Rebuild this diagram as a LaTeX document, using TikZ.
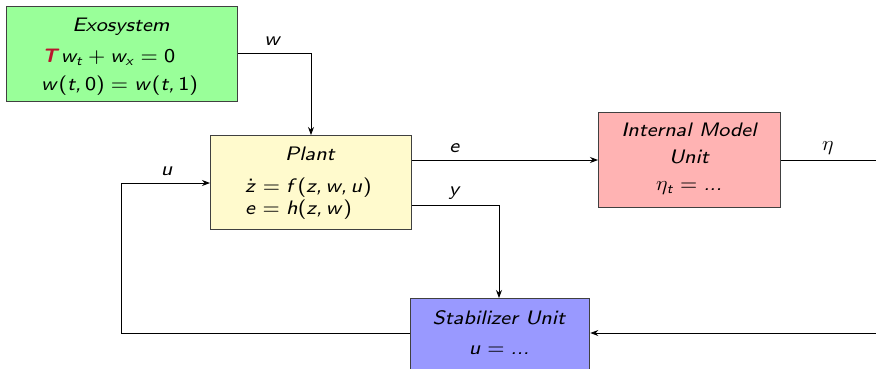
\documentclass[tikz,border=0pt]{standalone}
\usepackage{graphicx}
\usetikzlibrary{arrows.meta}
\DeclareFontFamily{OT1}{ssviii}{}
\DeclareFontShape{OT1}{ssviii}{m}{n}{<-> cmss8}{}
\DeclareFontShape{OT1}{ssviii}{m}{sl}{<-> cmssi8}{}
\DeclareFontShape{OT1}{ssviii}{m}{it}{<-> ssub * ssviii/m/sl}{}
\DeclareSymbolFont{sflet}{OT1}{ssviii}{m}{sl}
\SetSymbolFont{operators}{normal}{OT1}{ssviii}{m}{n}
\DeclareMathSymbol{e}{\mathalpha}{sflet}{`e}
\DeclareMathSymbol{f}{\mathalpha}{sflet}{`f}
\DeclareMathSymbol{h}{\mathalpha}{sflet}{`h}
\DeclareMathSymbol{t}{\mathalpha}{sflet}{`t}
\DeclareMathSymbol{u}{\mathalpha}{sflet}{`u}
\DeclareMathSymbol{w}{\mathalpha}{sflet}{`w}
\DeclareMathSymbol{x}{\mathalpha}{sflet}{`x}
\DeclareMathSymbol{y}{\mathalpha}{sflet}{`y}
\DeclareMathSymbol{z}{\mathalpha}{sflet}{`z}
\DeclareMathSymbol{,}{\mathpunct}{sflet}{`,}
\DeclareMathSymbol{.}{\mathord}{sflet}{`.}
\definecolor{exo}{RGB}{153,255,153}
\definecolor{plantc}{RGB}{255,250,205}
\definecolor{imu}{RGB}{255,179,179}
\definecolor{stab}{RGB}{153,153,255}
\definecolor{tred}{RGB}{185,20,45}
\newcommand{\wtx}[1]{\scalebox{1.07}[1]{#1}}
\newcommand{\ssit}[1]{{\fontencoding{OT1}\fontfamily{ssviii}\fontshape{sl}\selectfont #1}}
\newcommand{\bigT}{{\fontencoding{TU}\fontfamily{lmss}\fontseries{bx}\fontshape{sl}\selectfont T}}
\begin{document}
\begin{tikzpicture}[x=1pt,y=-1pt,
  every node/.style={font=\fontsize{19.5}{23}\selectfont},
  blk/.style={draw=black!75,line width=1.3pt,inner sep=0pt,anchor=north west},
  txt/.style={anchor=base,inner sep=0pt},
  ltxt/.style={anchor=base west,inner sep=0pt},
  conn/.style={line width=0.9pt,-{Stealth[length=8pt,width=6pt]}}]
\useasboundingbox (0,0) rectangle (876,368);
\clip (0,0) rectangle (876,368);
% boxes
\node[blk,fill=exo,minimum width=231pt,minimum height=95pt] (exo) at (6,6) {};
\node[blk,fill=plantc,minimum width=201pt,minimum height=94pt] (plant) at (210,135) {};
\node[blk,fill=imu,minimum width=182pt,minimum height=95pt] (imu) at (598,112) {};
\node[blk,fill=stab,minimum width=179pt,minimum height=95pt] (stab) at (410,298) {};
% texts
\node[txt] (t1) at (121,31) {\wtx{\ssit{Exosystem}}};
\node[ltxt] (t2) at (42,62) {\wtx{\textcolor{tred}{\bigT}\,$w_t+w_x=0$}};
\node[ltxt] (t3) at (41,90) {\wtx{$w(t,0)=w(t,1)$}};
\node[txt] (p1) at (310,160) {\wtx{\ssit{Plant}}};
\node[ltxt] (p2) at (245,192) {\wtx{$\dot z=f(z,w,u)$}};
\node[ltxt] (p3) at (245,214) {\wtx{$e=h(z,w)$}};
\node[txt] (i1) at (689,136) {\wtx{\ssit{Internal Model}}};
\node[txt] (i2) at (689,163) {\wtx{\ssit{Unit}}};
\node[txt] (i3) at (689,190) {\wtx{$\eta_t=...$}};
\node[txt] (s1) at (499,324) {\wtx{\ssit{Stabilizer Unit}}};
\node[txt] (s2) at (499,354) {\wtx{$u=...$}};
% coordinates
\coordinate (wc) at (311,53);
\coordinate (yc) at (499,205);
\coordinate (uc1) at (121,333);
\coordinate (uc2) at (121,183);
\coordinate (ec) at (900,160);
\coordinate (fc) at (900,333);
% connectors
\draw[conn] (exo.east |- wc) -- (wc) -- (wc |- plant.north);
\draw[conn] (plant.east |- 0,160) -- (imu.west |- 0,160);
\draw[conn] (plant.east |- yc) -- (yc) -- (yc |- stab.north);
\draw[conn] (stab.west |- uc1) -- (uc1) -- (uc2) -- (plant.west |- uc2);
\draw[conn] (imu.east |- ec) -- (ec) -- (fc) -- (stab.east |- fc);
% labels
\node[txt] (lw) at (273,45) {\wtx{$w$}};
\node[txt] (le) at (455,152) {\wtx{$e$}};
\node[txt] (ly) at (455,195) {\wtx{$y$}};
\node[txt] (lu) at (167,175) {\wtx{$u$}};
\node[txt] (leta) at (828,150) {\wtx{$\eta$}};
\end{tikzpicture}
\end{document}
